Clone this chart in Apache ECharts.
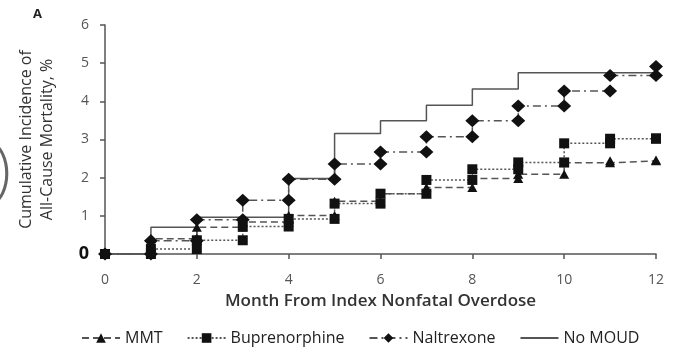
<!DOCTYPE html>
<html>
<head>
<meta charset="utf-8">
<script src="https://cdn.jsdelivr.net/npm/echarts@6/dist/echarts.min.js"></script>
<style>
html,body{margin:0;padding:0;background:#fff;}
#chart{width:675px;height:347px;}
</style>
</head>
<body>
<div id="chart"></div>
<script>
// Data (cumulative incidence %, by month)
const months = [0, 1, 2, 3, 4, 5, 6, 7, 8, 9, 10, 11, 12];
const xTicks = [0, 2, 4, 6, 8, 10, 12];
const yTicks = [0, 1, 2, 3, 4, 5, 6];
const mmt     = [0, 0.40, 0.70, 0.84, 1.01, 1.38, 1.58, 1.74, 1.98, 2.09, 2.39, 2.44, 2.46];
const bup     = [0, 0.13, 0.36, 0.72, 0.92, 1.32, 1.58, 1.94, 2.22, 2.40, 2.90, 3.02, 3.03];
const nal     = [0, 0.35, 0.90, 1.41, 1.96, 2.36, 2.67, 3.07, 3.49, 3.88, 4.27, 4.68, 4.91];
const noMoud  = [0, 0.70, 0.96, 0.96, 1.98, 3.16, 3.49, 3.90, 4.32, 4.75, 4.75, 4.75, 4.75];

const FONT = 'Open Sans';
const LINE = '#555';
const MARK = '#111';

function pts(v) { return months.map((m, i) => [m, v[i]]); }
// marker at the bottom of each vertical jump (previous value at month m)
function lowPts(v) { return months.slice(1).map((m, i) => [m, v[i]]); }

function stepSeries(name, v, lineType, symbol, size) {
  return {
    name: name, type: 'line', step: 'end', data: pts(v),
    symbol: symbol, symbolSize: size, showSymbol: symbol !== 'none',
    lineStyle: { color: LINE, width: 1.5, type: lineType },
    itemStyle: { color: MARK, borderWidth: 0, opacity: 1 },
    emphasis: { disabled: true }, z: 3
  };
}
function lowSeries(v, symbol, size) {
  return {
    type: 'scatter', data: lowPts(v), symbol: symbol, symbolSize: size,
    itemStyle: { color: MARK, opacity: 1 }, emphasis: { disabled: true }, z: 4
  };
}

const chart = echarts.init(document.getElementById('chart'), null, { renderer: 'canvas' });
chart.setOption({
  animation: false,
  backgroundColor: '#fff',
  textStyle: { fontFamily: FONT },
  grid: { left: 105, right: 19, top: 25, bottom: 93, containLabel: false },
  legend: {
    data: ['MMT', 'Buprenorphine', 'Naltrexone', { name: 'No MOUD', itemStyle: { opacity: 0 } }],
    top: 325, left: 76,
    itemWidth: 38, itemHeight: 12, itemGap: 24,
    textStyle: { fontFamily: FONT, fontSize: 16, color: '#222', fontWeight: 500 }
  },
  xAxis: {
    type: 'value', min: 0, max: 12, interval: 2,
    name: 'Month From Index Nonfatal Overdose', nameLocation: 'middle', nameGap: 39,
    nameTextStyle: { fontFamily: FONT, fontSize: 17, fontWeight: 600, color: '#333' },
    axisLine: { show: true, lineStyle: { color: LINE, width: 1.5 } },
    axisTick: { show: true, length: 5, lineStyle: { color: LINE, width: 1.5 } },
    axisLabel: { fontFamily: FONT, fontSize: 14, color: '#555', margin: 19,
      formatter: v => xTicks.includes(v) ? String(v) : '' },
    splitLine: { show: false }
  },
  yAxis: {
    type: 'value', min: 0, max: 6, interval: 1,
    name: 'Cumulative Incidence of\nAll-Cause Mortality, %', nameLocation: 'middle', nameGap: 47,
    nameTextStyle: { fontFamily: FONT, fontSize: 16, fontWeight: 500, color: '#333', lineHeight: 21 },
    axisLine: { show: true, lineStyle: { color: LINE, width: 1.5 } },
    axisTick: { show: true, length: 5, lineStyle: { color: LINE, width: 1.5 } },
    axisLabel: { fontFamily: FONT, fontSize: 14, color: '#555', margin: 16,
      formatter: v => yTicks.includes(v) ? (v === 0 ? '{z|0}' : String(v)) : '',
      rich: { z: { fontFamily: FONT, fontSize: 18, fontWeight: 'bold', color: '#111' } } },
    splitLine: { show: false }
  },
  graphic: [
    { type: 'text', left: 33, top: 8, style: { text: 'A', font: 'bold 13px "Open Sans"', fill: '#222' } },
    { type: 'text', left: -6, top: 142, style: { text: ')', font: '300 62px "Open Sans"', fill: '#666' } }
  ],
  series: [
    stepSeries('MMT', mmt, [7, 4], 'triangle', [10, 9]),
    stepSeries('Buprenorphine', bup, [2, 2], 'rect', [10, 10]),
    stepSeries('Naltrexone', nal, [8, 4, 2, 4], 'diamond', [14, 13]),
    stepSeries('No MOUD', noMoud, 'solid', 'none', 0),
    lowSeries(mmt, 'triangle', [10, 9]),
    lowSeries(bup, 'rect', [10, 10]),
    lowSeries(nal, 'diamond', [14, 13])
  ]
});
</script>
</body>
</html>
